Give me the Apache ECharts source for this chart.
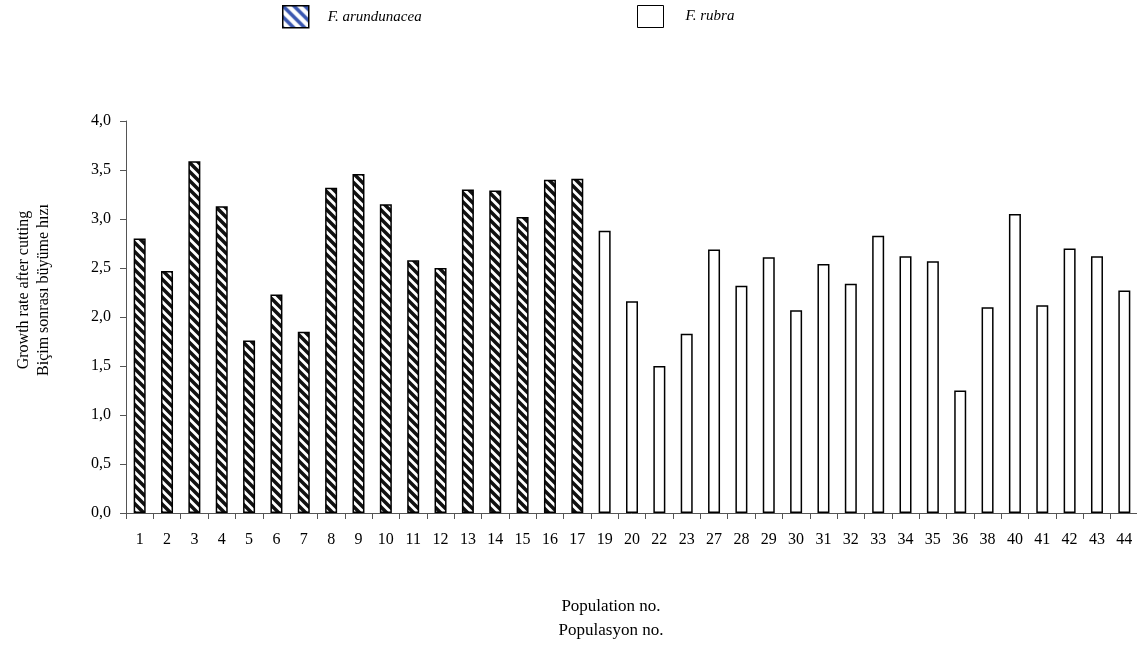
<!DOCTYPE html>
<html>
<head>
<meta charset="utf-8">
<script src="https://cdn.jsdelivr.net/npm/echarts@6/dist/echarts.min.js"></script>
<style>html,body{margin:0;padding:0;background:#fff;}#c{width:1137px;height:646px;}</style>
</head>
<body>
<div id="c"></div>
<script>
const categories = ['1','2','3','4','5','6','7','8','9','10','11','12','13','14','15','16','17','19','20','22','23','27','28','29','30','31','32','33','34','35','36','38','40','41','42','43','44'];
const arundinaceaValues = [2.80,2.47,3.59,3.13,1.76,2.23,1.85,3.32,3.46,3.15,2.58,2.50,3.30,3.29,3.02,3.40,3.41];
const rubraValues = [2.88,2.16,1.50,1.83,2.69,2.32,2.61,2.07,2.54,2.34,2.83,2.62,2.57,1.25,2.10,3.05,2.12,2.70,2.62,2.27];
const yTicks = [0,0.5,1,1.5,2,2.5,3,3.5,4];

const nA = arundinaceaValues.length;
const seriesA = categories.map((c,i)=> i < nA ? arundinaceaValues[i] : '-');
const seriesR = categories.map((c,i)=> i >= nA ? rubraValues[i-nA] : '-');

function stripePattern(color, size, width){
  const cv = document.createElement('canvas');
  cv.width = size; cv.height = size;
  const ctx = cv.getContext('2d');
  ctx.fillStyle = '#fff'; ctx.fillRect(0,0,size,size);
  ctx.strokeStyle = color; ctx.lineWidth = width; ctx.lineCap = 'square';
  for (let k=-1;k<=1;k++){
    ctx.beginPath(); ctx.moveTo(-1, k*size-1); ctx.lineTo(size+1, size+k*size+1); ctx.stroke();
  }
  return {image: cv, repeat: 'repeat'};
}
const barPattern = stripePattern('#111', 9, 3.5);
const legendPattern = stripePattern('#3a57b0', 11, 3.5);

const font = '"Liberation Serif", "Times New Roman", serif';
const chart = echarts.init(document.getElementById('c'), null, {renderer:'canvas'});
chart.setOption({
  backgroundColor: '#fff',
  animation: false,
  textStyle: {fontFamily: font},
  legend: [
    {left: 282, top: 5, padding: 0, itemWidth: 26, itemHeight: 22, icon: 'rect',
     textStyle: {fontFamily: font, fontStyle: 'italic', fontSize: 15, color: '#000', padding: [0,0,0,14]},
     data: [{name: 'F. arundunacea', itemStyle: {color: legendPattern, borderColor: '#000', borderWidth: 1.5}}]},
    {left: 637, top: 5, padding: 0, itemWidth: 26, itemHeight: 22, icon: 'rect',
     textStyle: {fontFamily: font, fontStyle: 'italic', fontSize: 15, color: '#000', padding: [0,0,0,17]},
     data: [{name: 'F. rubra', itemStyle: {color: '#fff', borderColor: '#000', borderWidth: 1}}]}
  ],
  grid: {left: 126, top: 121, width: 1012, height: 392, containLabel: false, outerBoundsMode: 'none'},
  xAxis: {
    type: 'category', data: categories,
    axisLine: {lineStyle: {color: '#555', width: 1}},
    axisTick: {show: true, length: 6, lineStyle: {color: '#555'}},
    axisLabel: {fontFamily: font, fontSize: 16, color: '#000', margin: 19, interval: 0},
    name: 'Population no.\nPopulasyon no.', nameLocation: 'middle', nameGap: 82,
    nameTextStyle: {fontFamily: font, fontSize: 17, color: '#000', lineHeight: 24, padding: [0, 42, 0, 0]}
  },
  yAxis: {
    type: 'value', min: 0, max: 4, interval: 0.5,
    splitLine: {show: false},
    axisLine: {show: true, lineStyle: {color: '#555', width: 1}},
    axisTick: {show: true, length: 6, lineStyle: {color: '#555'}},
    axisLabel: {fontFamily: font, fontSize: 16, color: '#000', margin: 15,
      formatter: v => yTicks.includes(v) ? v.toFixed(1).replace('.', ',') : ''},
    name: 'Growth rate after cutting\nBiçim sonrası büyüme hızı', nameLocation: 'middle', nameGap: 72, nameRotate: 90,
    nameTextStyle: {fontFamily: font, fontSize: 16, color: '#000', lineHeight: 20, padding: [0, 0, 0, 54]}
  },
  series: [
    {name: 'F. arundunacea', type: 'bar', stack: 'all', data: seriesA, barWidth: 12,
     itemStyle: {color: barPattern, borderColor: '#000', borderWidth: 1.5}},
    {name: 'F. rubra', type: 'bar', stack: 'all', data: seriesR, barWidth: 12,
     itemStyle: {color: '#fff', borderColor: '#000', borderWidth: 1.5}}
  ]
});
</script>
</body>
</html>
